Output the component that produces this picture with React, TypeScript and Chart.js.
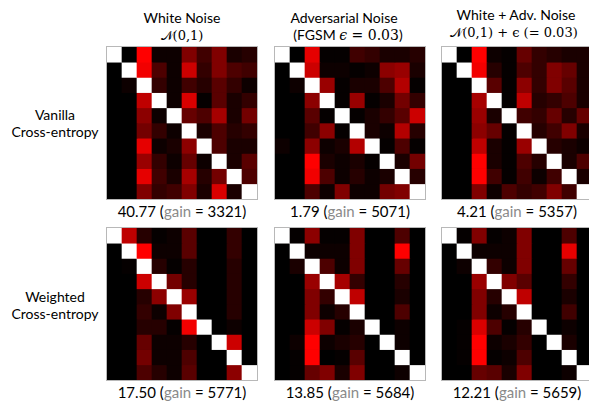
import React, { useEffect, useRef } from "react";
import { Chart, registerables } from "chart.js";

Chart.register(...registerables);

const CLASSES = ["0", "1", "2", "3", "4", "5", "6", "7", "8", "9"];

const COLUMN_TITLES = ["White Noise", "Adversarial Noise", "White + Adv. Noise"];
const COLUMN_SUBTITLES = ["\u{1D4A9}(0,1)", "(FGSM \u03F5 = 0.03)", "\u{1D4A9}(0,1) + \u03F5 (= 0.03)"];
const ROW_LABELS = [["Vanilla", "Cross-entropy"], ["Weighted", "Cross-entropy"]];
const SCORES = ["40.77", "1.79", "4.21", "17.50", "13.85", "12.21"];
const GAINS = ["3321", "5071", "5357", "5771", "5684", "5659"];

// intensity of confusion per cell (row = true class, column = predicted), diagonal = 1
const VANILLA_WHITE = [
  [1, 0, 1.0, 0.05, 0.05, 0.5, 0.25, 0.5, 0.1, 0.15],
  [0, 1, 0.95, 0.3, 0.05, 0.8, 0.2, 0.5, 0.3, 0.25],
  [0, 0.05, 1, 0.2, 0.05, 0.25, 0.15, 0.35, 0.2, 0.05],
  [0, 0, 0.75, 1, 0.05, 0.85, 0.02, 0.35, 0.1, 0.2],
  [0, 0, 0.55, 0.05, 1, 0.4, 0.3, 0.65, 0.1, 0.45],
  [0, 0, 0.45, 0.2, 0.05, 1, 0.1, 0.3, 0.15, 0.2],
  [0, 0, 0.9, 0.05, 0.1, 0.55, 1, 0.3, 0.1, 0.1],
  [0, 0, 0.6, 0.2, 0.05, 0.4, 0.05, 1, 0.1, 0.35],
  [0, 0, 0.9, 0.25, 0.1, 0.65, 0.15, 0.45, 1, 0.3],
  [0, 0, 0.5, 0.2, 0.25, 0.5, 0.1, 0.85, 0.1, 1],
];
const VANILLA_ADV = [
  [1, 0, 0.9, 0.02, 0.02, 0.25, 0.2, 0.1, 0.1, 0.15],
  [0, 1, 0.8, 0.05, 0.05, 0.02, 0.05, 0.55, 0.6, 0.1],
  [0, 0.05, 1, 0.6, 0.02, 0.1, 0.1, 0.3, 0.7, 0.02],
  [0, 0, 0.55, 1, 0.02, 0.6, 0.02, 0.1, 0.45, 0.2],
  [0, 0, 0.35, 0.02, 1, 0.02, 0.1, 0.2, 0.35, 0.8],
  [0, 0, 0.25, 0.55, 0.02, 1, 0.1, 0.05, 0.7, 0.15],
  [0.05, 0, 0.55, 0.05, 0.1, 0.7, 1, 0.02, 0.3, 0.02],
  [0, 0, 1.0, 0.1, 0.05, 0.1, 0.02, 1, 0.1, 0.45],
  [0, 0, 0.95, 0.3, 0.05, 0.15, 0.05, 0.1, 1, 0.15],
  [0, 0, 0.3, 0.05, 0.5, 0.05, 0.05, 0.45, 0.5, 1],
];
const VANILLA_BOTH = [
  [1, 0, 1.0, 0.05, 0.02, 0.4, 0.2, 0.15, 0.1, 0.1],
  [0, 1, 0.95, 0.15, 0.02, 0.3, 0.2, 0.5, 0.4, 0.1],
  [0, 0, 1, 0.35, 0.02, 0.55, 0.2, 0.5, 0.35, 0.1],
  [0, 0, 0.65, 1, 0.02, 0.75, 0.15, 0.2, 0.3, 0.1],
  [0, 0, 0.6, 0.1, 1, 0.25, 0.2, 0.4, 0.15, 0.4],
  [0, 0, 0.55, 0.4, 0.02, 1, 0.15, 0.25, 0.5, 0.1],
  [0, 0, 0.75, 0.1, 0.02, 0.6, 1, 0.15, 0.1, 0.05],
  [0, 0, 1.0, 0.1, 0.02, 0.3, 0.15, 1, 0.1, 0.3],
  [0, 0, 1.0, 0.25, 0.02, 0.25, 0.05, 0.25, 1, 0.1],
  [0, 0, 0.5, 0.05, 0.3, 0.2, 0.25, 0.5, 0.25, 1],
];
const WEIGHTED_WHITE = [
  [1, 0.75, 0.15, 0.02, 0.05, 0.35, 0, 0, 0.2, 0],
  [0, 1, 1.0, 0.05, 0.05, 0.35, 0, 0, 0.2, 0],
  [0, 0.02, 1, 0.15, 0.02, 0.15, 0, 0, 0.15, 0],
  [0, 0, 0.8, 1, 0.45, 0.15, 0, 0, 0.15, 0],
  [0, 0, 0.15, 0.55, 1, 0.6, 0, 0, 0.15, 0],
  [0, 0, 0.2, 0.05, 0.5, 1, 0, 0, 0.15, 0],
  [0, 0, 0.15, 0.15, 0.02, 0.95, 1, 0, 0.05, 0],
  [0, 0, 0.4, 0.05, 0.05, 0.15, 0, 1, 0.8, 0],
  [0, 0, 0.45, 0.05, 0.05, 0.3, 0, 0, 1, 0],
  [0, 0, 0.3, 0.15, 0.05, 0.35, 0, 0, 0.55, 1],
];
const WEIGHTED_ADV = [
  [1, 0.02, 0.55, 0.02, 0.02, 0.5, 0, 0, 0.3, 0],
  [0, 1, 0.05, 0.05, 0.05, 0.5, 0, 0, 1.0, 0],
  [0, 0.1, 1, 0.3, 0.05, 0.5, 0, 0, 0.4, 0],
  [0, 0, 0.6, 1, 0.65, 0.2, 0, 0, 0.15, 0],
  [0, 0, 0.5, 0.2, 1, 0.75, 0, 0, 0.1, 0],
  [0, 0, 0.5, 0.05, 0.15, 1, 0, 0, 0.3, 0],
  [0, 0, 0.8, 0.5, 0.02, 0.1, 1, 0, 0.05, 0],
  [0, 0.05, 1.0, 0.05, 0.1, 0.15, 0, 1, 0.05, 0],
  [0, 0.02, 1.0, 0, 0.02, 0.35, 0, 0, 1, 0],
  [0, 0.02, 0.4, 0.5, 0.1, 0.5, 0, 0, 0.05, 1],
];
const WEIGHTED_BOTH = [
  [1, 0.02, 0.5, 0.02, 0.05, 0.5, 0, 0, 0.3, 0],
  [0, 1, 0.05, 0.05, 0.05, 0.5, 0, 0, 0.9, 0],
  [0, 0.05, 1, 0.2, 0.05, 0.5, 0, 0, 0.4, 0],
  [0, 0, 0.6, 1, 0.5, 0.35, 0, 0, 0.2, 0],
  [0, 0, 0.5, 0.15, 1, 0.75, 0, 0, 0.1, 0],
  [0, 0, 0.5, 0.05, 0.15, 1, 0, 0, 0.25, 0],
  [0, 0.02, 0.85, 0.3, 0.02, 0.15, 1, 0, 0.05, 0],
  [0, 0.02, 1.0, 0.05, 0.1, 0.2, 0, 1, 0.1, 0],
  [0, 0.02, 1.0, 0.02, 0.05, 0.3, 0, 0, 1, 0],
  [0, 0, 0.4, 0.35, 0.1, 0.5, 0, 0, 0.05, 1],
];

const MATRICES = [VANILLA_WHITE, VANILLA_ADV, VANILLA_BOTH, WEIGHTED_WHITE, WEIGHTED_ADV, WEIGHTED_BOTH];

const COL_LEFT = [107, 275, 442];
const ROW_TOP = [47, 228];
const MW = 150;
const MH = 152;

function cellColor(v: number, diag: boolean) {
  if (diag) return "rgb(255,255,255)";
  const r = Math.round(Math.max(0, Math.min(1, v)) * 255);
  return `rgb(${r},0,0)`;
}

function Matrix({ data, left, top }: { data: number[][]; left: number; top: number }) {
  const ref = useRef<HTMLCanvasElement | null>(null);
  useEffect(() => {
    if (!ref.current) return;
    const chart = new Chart(ref.current, {
      type: "bar",
      data: {
        labels: CLASSES,
        datasets: data.map((row, ri) => ({
          label: CLASSES[ri],
          data: row.map(() => 1),
          backgroundColor: row.map((v, ci) => cellColor(v, ri === ci)),
          borderWidth: 0,
          barPercentage: 1,
          categoryPercentage: 1,
        })),
      },
      options: {
        animation: false,
        responsive: false,
        devicePixelRatio: 1,
        layout: { padding: 0 },
        plugins: { legend: { display: false }, tooltip: { enabled: false } },
        scales: {
          x: { stacked: true, display: false },
          y: { stacked: true, display: false, reverse: true, min: 0, max: CLASSES.length },
        },
      },
    });
    return () => chart.destroy();
  }, [data]);
  return (
    <div
      style={{
        position: "absolute",
        left: left - 1,
        top: top - 1,
        width: MW,
        height: MH,
        border: "1px solid #b8b8b8",
        background: "#000",
      }}
    >
      <canvas ref={ref} width={MW} height={MH} style={{ display: "block", width: MW, height: MH }} />
    </div>
  );
}

const textFont = "Lato, 'Open Sans', sans-serif";
const mathFont = "'DejaVu Serif', 'Liberation Serif', serif";

function Centered({ x, y, children, font, size }: { x: number; y: number; children: any; font?: string; size?: number }) {
  return (
    <div
      style={{
        position: "absolute",
        left: x - 150,
        top: y,
        width: 300,
        textAlign: "center",
        fontFamily: font || textFont,
        fontSize: size || 14,
        lineHeight: "1",
        whiteSpace: "nowrap",
        transform: "translateY(-50%)",
        color: "#000",
      }}
    >
      {children}
    </div>
  );
}

export default function App() {
  const titleY = [[18, 35], [18, 35], [15, 32]];
  return (
    <div
      style={{
        position: "fixed",
        left: 0,
        top: 0,
        width: 589,
        height: 405,
        overflow: "hidden",
        background: "#fff",
      }}
    >
      {COLUMN_TITLES.map((t, i) => (
        <React.Fragment key={"t" + i}>
          <Centered x={COL_LEFT[i] + MW / 2 - (i === 1 ? 6 : i === 2 ? 1 : 0)} y={titleY[i][0]}>
            {t}
          </Centered>
          <Centered x={COL_LEFT[i] + MW / 2 - (i === 1 ? 2 : i === 2 ? 3 : 0)} y={titleY[i][1]} font={i === 1 ? textFont : mathFont} size={i === 1 ? 14 : 13}>
            {i === 1 ? (
              <span>
                (FGSM <span style={{ fontFamily: mathFont, fontStyle: "italic" }}>{"\u03F5"}</span>
                <span style={{ fontFamily: mathFont }}> = 0.03</span>)
              </span>
            ) : (
              COLUMN_SUBTITLES[i]
            )}
          </Centered>
        </React.Fragment>
      ))}
      {ROW_LABELS.map((lines, r) => (
        <React.Fragment key={"r" + r}>
          <Centered x={55} y={ROW_TOP[r] + MH / 2 - 8 + (r === 1 ? 1 : 0)} size={14}>
            {lines[0]}
          </Centered>
          <Centered x={55} y={ROW_TOP[r] + MH / 2 + 9 + (r === 1 ? 1 : 0)} size={14}>
            {lines[1]}
          </Centered>
        </React.Fragment>
      ))}
      {MATRICES.map((m, k) => {
        const r = Math.floor(k / 3);
        const c = k % 3;
        return <Matrix key={"m" + k} data={m} left={COL_LEFT[c]} top={ROW_TOP[r]} />;
      })}
      {SCORES.map((s, k) => {
        const r = Math.floor(k / 3);
        const c = k % 3;
        return (
          <Centered key={"s" + k} x={COL_LEFT[c] + MW / 2} y={ROW_TOP[r] + MH + 12} size={15}>
            {s} (<span style={{ color: "#8a8a8a" }}>gain</span> = {GAINS[k]})
          </Centered>
        );
      })}
    </div>
  );
}
